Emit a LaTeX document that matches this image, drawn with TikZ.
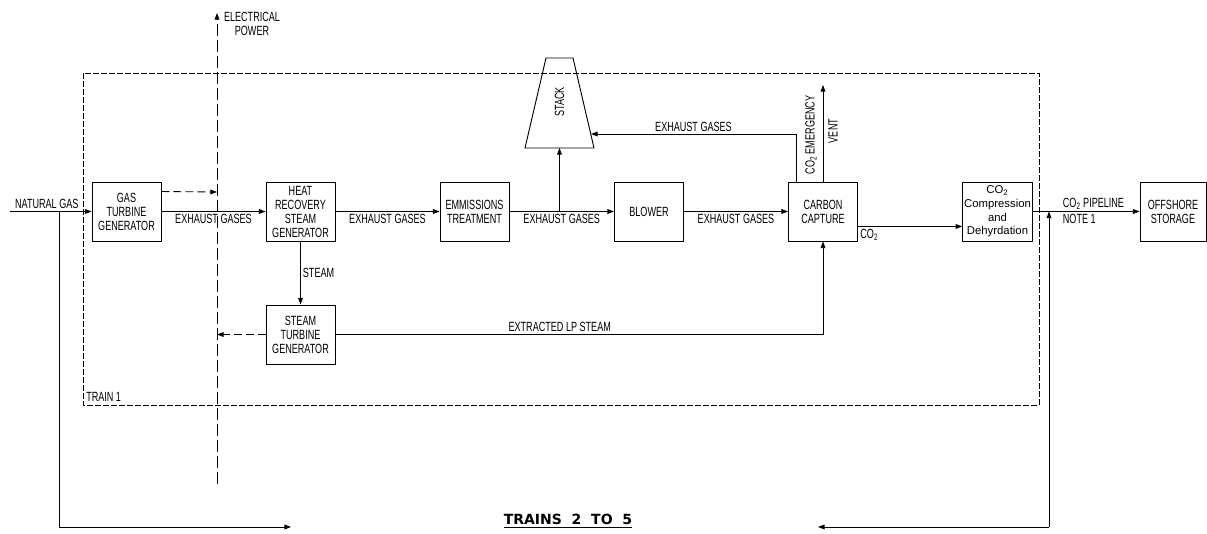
\documentclass[tikz,border=0pt]{standalone}
\usepackage{fontspec}
\setmainfont{Liberation Sans}[FakeStretch=0.68]
\newfontfamily\widefont{Liberation Sans}
\newfontfamily\trainsfont{DejaVu Sans}
\usetikzlibrary{arrows.meta}
\begin{document}
\begin{tikzpicture}[x=0.75pt,y=-0.75pt,font=\fontsize{10}{10.5}\selectfont,
  unitbox/.style={draw,line width=0.7pt,minimum width=51.75pt,minimum height=44.25pt,
    align=center,inner sep=1pt},
  pipe/.style={line width=0.65pt,-{Triangle[length=5pt,width=3.6pt]}},
  elec/.style={line width=0.65pt,dash pattern=on 6pt off 3pt,-{Triangle[length=5pt,width=3.6pt]}},
  lbl/.style={inner sep=1.5pt}]
\useasboundingbox (0,0) rectangle (1207,534);
\draw[line width=0.6pt,dash pattern=on 4.5pt off 1.5pt] (83,73) rectangle (1039,405);
\node[anchor=south west,lbl] (train1) at (84,404) {TRAIN 1};
\node[unitbox] (gtg) at (126.5,211.5) {GAS\\TURBINE\\GENERATOR};
\node[unitbox] (hrsg) at (300.5,211.5) {HEAT\\RECOVERY\\STEAM\\GENERATOR};
\node[unitbox] (emt) at (474.5,211.5) {EMMISSIONS\\TREATMENT};
\node[unitbox] (blower) at (649,211.5) {BLOWER};
\node[unitbox] (cc) at (823,211.5) {CARBON\\CAPTURE};
\node[unitbox,font=\widefont\fontsize{8.5}{10.2}\selectfont] (comp) at (997.5,211.5)
  {CO\textsubscript{2}\\Compression\\and\\Dehyrdation};
\node[unitbox,minimum width=49.5pt] (store) at (1173,211.5) {OFFSHORE\\STORAGE};
\node[unitbox] (stg) at (300.5,334.5) {STEAM\\TURBINE\\GENERATOR};
\draw[line width=0.7pt] (525,148) -- (546,58) -- (573,58) -- (594,148) -- cycle;
\node[rotate=90] (stack) at (559.5,102) {STACK};
\coordinate (stack-base) at (559.5,148);
\coordinate (stack-side) at (591,134);
\coordinate (ep-bot) at (217,484);
\coordinate (ep-top) at (217,13);
\coordinate (ep-a) at (217,192);
\coordinate (ep-b) at (217,334.5);
\coordinate (ng) at (10,211.5);
\coordinate (ng-tap) at (59,211.5);
\coordinate (tr-l) at (291,527);
\coordinate (tr-r) at (818,527);
\coordinate (ret) at (1049,527);
\coordinate (st-tap) at (559.5,211.5);
\coordinate (vent) at (823,85);
\draw[line width=0.65pt,dash pattern=on 9pt off 3pt,-{Triangle[length=5pt,width=3.6pt]}]
  (ep-bot) -- (ep-top);
\node[align=center,lbl] (ep-lbl) at (252,24) {ELECTRICAL\\POWER};
\draw[elec] ([yshift=-7.5pt]gtg.north east) -- (ep-a);
\draw[elec] (stg.west) -- (ep-b);
\draw[pipe] (ng) -- node[above,lbl,xshift=-3pt] (ng-lbl) {NATURAL GAS} (gtg.west);
\draw[pipe] (ng-tap) |- (tr-l);
\foreach \a/\b in {gtg/hrsg,hrsg/emt,emt/blower,blower/cc}
  \draw[pipe] (\a) -- node[below,lbl] {EXHAUST GASES} (\b);
\draw[pipe] (st-tap) -- (stack-base);
\draw[pipe] ([xshift=-20.25pt]cc.north) |- node[pos=0.75,above,lbl] (ex-lbl) {EXHAUST GASES}
  (stack-side);
\draw[pipe] (cc.north) -- (vent);
\node[rotate=90] (vent-lbl1) at (811,135) {CO\textsubscript{2} EMERGENCY};
\node[rotate=90] (vent-lbl2) at (833,131) {VENT};
\draw[pipe] (hrsg) -- node[right,lbl] (steam-lbl) {STEAM} (stg);
\draw[pipe] (stg.east) -| node[pos=0.23,above,lbl] (lp-lbl) {EXTRACTED LP STEAM} (cc.south);
\draw[pipe] ([yshift=-11.25pt]cc.east) -- node[pos=0,anchor=north west,lbl] (co2-lbl)
  {CO\textsubscript{2}} ([yshift=-11.25pt]comp.west);
\draw[pipe] (comp.east) -- node[pos=0.26,anchor=south west,lbl] (pipe-lbl) {CO\textsubscript{2} PIPELINE}
  node[pos=0.26,anchor=north west,lbl] (note-lbl) {NOTE 1} (store.west);
\draw[pipe] (ret) -- (ret |- store.west);
\draw[pipe] (ret) -- (tr-r);
\node[font=\trainsfont\bfseries\fontsize{10.5}{12}\selectfont] (trains) at (568,521)
  {\underline{TRAINS\ \ 2\ \ TO\ \ 5}};
\end{tikzpicture}
\end{document}
